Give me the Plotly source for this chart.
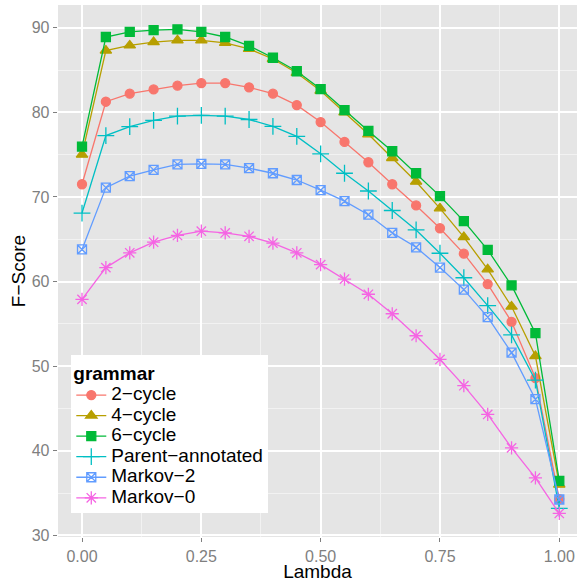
import plotly.graph_objects as go

# Interpolation weight between the two grammars
lambdas = [0.00, 0.05, 0.10, 0.15, 0.20, 0.25, 0.30, 0.35, 0.40, 0.45, 0.50,
           0.55, 0.60, 0.65, 0.70, 0.75, 0.80, 0.85, 0.90, 0.95, 1.00]

# F-score per grammar
two_cycle = [71.5, 81.25, 82.2, 82.7, 83.15, 83.45, 83.45, 82.95, 82.2, 80.85, 78.85,
             76.5, 74.1, 71.5, 69.0, 66.3, 63.3, 59.7, 55.25, 48.6, 34.3]
four_cycle = [75.0, 87.3, 87.9, 88.3, 88.5, 88.5, 88.2, 87.5, 86.3, 84.65, 82.55,
              80.0, 77.4, 74.6, 71.8, 68.65, 65.25, 61.45, 57.05, 51.2, 36.0]
six_cycle = [75.95, 88.9, 89.5, 89.7, 89.8, 89.5, 88.9, 87.85, 86.45, 84.85, 82.75,
             80.25, 77.8, 75.4, 72.8, 70.1, 67.15, 63.75, 59.55, 53.9, 36.45]
parent_annotated = [68.1, 77.25, 78.3, 79.05, 79.55, 79.65, 79.55, 79.15, 78.35, 77.15, 75.1,
                    72.8, 70.7, 68.4, 66.1, 63.35, 60.45, 57.15, 53.7, 48.35, 33.2]
markov_2 = [63.8, 71.1, 72.45, 73.2, 73.85, 73.9, 73.85, 73.4, 72.8, 72.0, 70.8,
            69.5, 67.9, 65.75, 64.05, 61.65, 59.05, 55.8, 51.6, 46.1, 34.25]
markov_0 = [57.9, 61.65, 63.4, 64.65, 65.45, 65.95, 65.75, 65.35, 64.55, 63.4, 62.0,
            60.3, 58.5, 56.2, 53.6, 50.8, 47.7, 44.3, 40.35, 36.8, 32.6]

series = [
    ("2\u2212cycle", two_cycle, "#F8766D", "circle", 9),
    ("4\u2212cycle", four_cycle, "#B79F00", "triangle-up", 10),
    ("6\u2212cycle", six_cycle, "#00BA38", "square", 9),
    ("Parent\u2212annotated", parent_annotated, "#00BFC4", "cross-thin-open", 12),
    ("Markov\u22122", markov_2, "#619CFF", "square-x-open", 9),
    ("Markov\u22120", markov_0, "#F564E3", "asterisk-open", 11),
]

x_ticks = [0.00, 0.25, 0.50, 0.75, 1.00]
x_tick_labels = ["0.00", "0.25", "0.50", "0.75", "1.00"]
y_ticks = [30, 40, 50, 60, 70, 80, 90]

fig = go.Figure()
for name, values, color, symbol, size in series:
    fig.add_trace(go.Scatter(
        x=lambdas, y=values, mode="lines+markers",
        name='<span style="font-size:19px">' + name + "</span>",
        line=dict(color=color, width=1.3),
        marker=dict(symbol=symbol, size=size, color=color,
                    line=dict(color=color, width=1.3)),
    ))

font = "Liberation Sans, Arial, sans-serif"
fig.update_layout(
    width=577, height=582,
    margin=dict(l=58, r=0, t=5, b=45),
    paper_bgcolor="white",
    plot_bgcolor="#E5E5E5",
    font=dict(family=font, color="black", size=19),
    showlegend=True,
    legend=dict(
        title=dict(text="<b>grammar</b>", font=dict(size=19)),
        x=0.0256, y=0.342, xanchor="left", yanchor="top",
        bgcolor="white", borderwidth=0,
        # compact rows; the entry text itself is sized by the span above
        font=dict(size=13.5), tracegroupgap=0, itemwidth=30,
    ),
    xaxis=dict(
        range=[-0.0503, 1.0371], tickvals=x_ticks, ticktext=x_tick_labels,
        showgrid=True, gridcolor="white", gridwidth=1.5,
        minor=dict(dtick=0.125, tick0=0.125, showgrid=True, gridcolor="#F2F2F2",
                   gridwidth=0.6, ticks=""),
        ticks="outside", ticklen=4.3, tickcolor="#7F7F7F", tickwidth=1,
        tickfont=dict(size=16, color="#7F7F7F"),
        zeroline=False, showline=False,
        title=dict(text="Lambda", font=dict(size=19), standoff=1),
    ),
    yaxis=dict(
        range=[29.82, 92.68], tickvals=y_ticks,
        showgrid=True, gridcolor="white", gridwidth=1.5,
        minor=dict(dtick=5, tick0=35, showgrid=True, gridcolor="#F2F2F2",
                   gridwidth=0.6, ticks=""),
        ticks="outside", ticklen=4.3, tickcolor="#7F7F7F", tickwidth=1,
        tickfont=dict(size=16, color="#7F7F7F"),
        zeroline=False, showline=False,
        title=dict(text="F\u2212Score", font=dict(size=19), standoff=1),
    ),
)

fig.write_html("out.html")
